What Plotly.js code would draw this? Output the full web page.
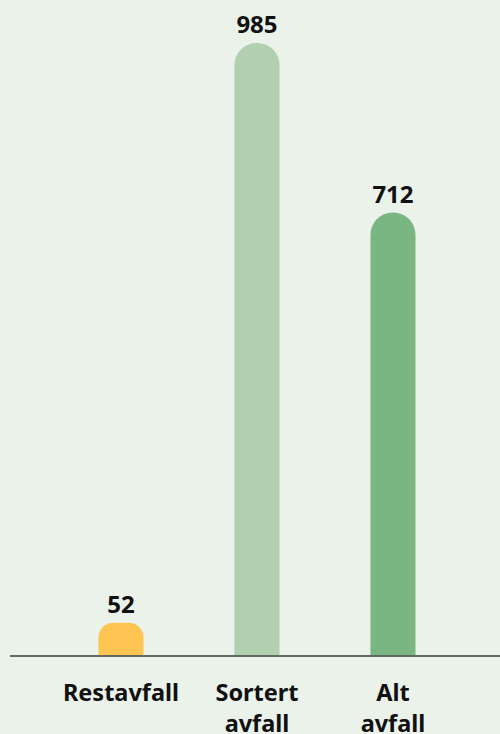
<!DOCTYPE html>
<html><head><meta charset="utf-8">
<script src="https://cdn.plot.ly/plotly-3.0.1.min.js"></script>
<style>html,body{margin:0;padding:0;background:#eaf2ea;}#chart{width:500px;height:734px;}</style>
</head><body><div id="chart"></div>
<script>
const categories = ["Restavfall", "Sortert<br>avfall", "Alt<br>avfall"];
const values = [52, 985, 712];
const colors = ["#fec553", "#b0d0b0", "#7ab682"];
const radii = [15, 22, 22];

const traces = categories.map((c, i) => ({
  type: "bar",
  x: [i],
  y: [values[i]],
  width: 0.331,
  marker: {color: colors[i], cornerradius: radii[i], line: {width: 0}},
  text: [String(values[i])],
  textposition: "outside",
  cliponaxis: false,
  textfont: {family: "Noto Sans", size: 24, color: "#111111", weight: 700},
  hoverinfo: "none",
  showlegend: false
}));

const layout = {
  width: 500, height: 734,
  margin: {l: 10, r: 0, t: 0, b: 79},
  paper_bgcolor: "#eaf2ea",
  plot_bgcolor: "#eaf2ea",
  barmode: "overlay",
  showlegend: false,
  xaxis: {
    range: [-0.816, 2.787],
    tickmode: "array",
    tickvals: [0, 1, 2],
    ticktext: categories,
    showgrid: false, zeroline: false,
    showline: true, linecolor: "#5f6b60", linewidth: 2,
    ticks: "", ticklabelstandoff: 16,
    tickfont: {family: "Noto Sans", size: 23.5, color: "#111111", weight: 700},
    fixedrange: true
  },
  yaxis: {
    range: [0, 1054.2],
    visible: false, showgrid: false, zeroline: false, fixedrange: true
  }
};
Plotly.newPlot("chart", traces, layout, {displayModeBar: false, staticPlot: true});
</script></body></html>
